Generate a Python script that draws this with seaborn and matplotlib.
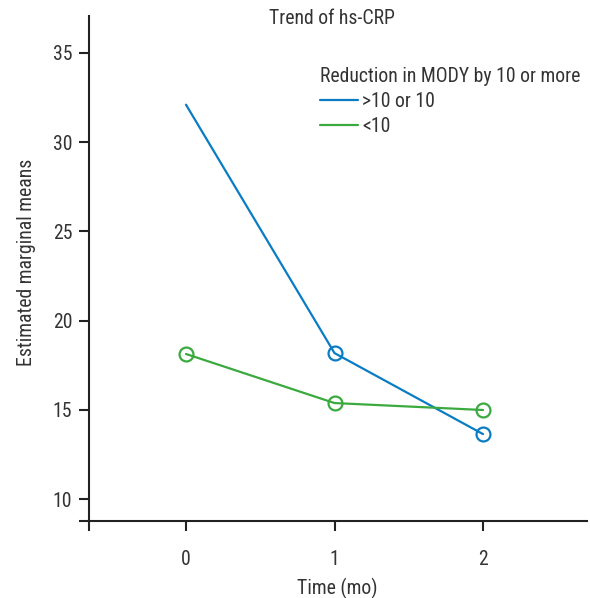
import matplotlib
matplotlib.use("Agg")
import matplotlib.pyplot as plt
import seaborn as sns
import pandas as pd
from matplotlib.lines import Line2D
from matplotlib import font_manager

time_points = [0, 1, 2]
group_labels = [">10 or 10", "<10"]
values_high = [32.1, 18.18, 13.64]
values_low = [18.13, 15.38, 14.99]
x_tick_labels = ["0", "1", "2"]
y_tick_values = [10, 15, 20, 25, 30, 35]

df = pd.DataFrame({
    "time": time_points * 2,
    "mean": values_high + values_low,
    "group": [group_labels[0]] * 3 + [group_labels[1]] * 3,
})

sns.set_theme(style="white")
names = {f.name for f in font_manager.fontManager.ttflist}
fam = [n for n in ["Roboto Condensed", "Liberation Sans Narrow", "Roboto", "DejaVu Sans"] if n in names]
plt.rcParams["font.family"] = fam + ["DejaVu Sans"]

colors = {group_labels[0]: "#0a7cc4", group_labels[1]: "#3aaa3e"}
text_c = "#333333"
fs = 14.2

W, H = 590, 598
fig = plt.figure(figsize=(5.9, 5.98), dpi=100)
ax = fig.add_axes([89 / W, 1 - 521 / H, (587 - 89) / W, (521 - 16) / H])

sns.lineplot(data=df, x="time", y="mean", hue="group", palette=colors,
             marker="o", markersize=10, markerfacecolor="none",
             markeredgewidth=1.6, linewidth=1.6, legend=False, ax=ax)
for ln in ax.get_lines():
    ln.set_markeredgecolor(ln.get_color())
    ln.set_markerfacecolor("none")
ax.get_lines()[0].set_markevery([1, 2])

xlo, xhi = -0.653, 2.70
ylo, yhi = 8.77, 37.07
ax.set_xlim(xlo, xhi)
ax.set_ylim(ylo, yhi)
ax.set_xticks([xlo] + time_points)
ax.set_xticklabels([""] + x_tick_labels)
ax.set_yticks([ylo] + y_tick_values)
ax.set_yticklabels([""] + [str(v) for v in y_tick_values])

for s in ["top", "right"]:
    ax.spines[s].set_visible(False)
for s in ["left", "bottom"]:
    ax.spines[s].set_color("#222222")
    ax.spines[s].set_linewidth(1.5)
ax.tick_params(axis="both", which="both", direction="out", length=7, width=1.5,
               color="#222222", labelcolor=text_c, labelsize=fs,
               left=True, bottom=True)
ax.tick_params(axis="y", pad=5)
ax.tick_params(axis="x", pad=14)

ax.set_xlabel("")
ax.set_ylabel("")
fig.text(337 / W, 1 - 588 / H, "Time (mo)", fontsize=fs, color=text_c,
         ha="center", va="center")
fig.text(27 / W, 1 - 262 / H, "Estimated marginal means", fontsize=fs,
         color=text_c, ha="center", va="center", rotation=90)
fig.text(332 / W, 1 - 18 / H, "Trend of hs-CRP", fontsize=fs, color=text_c,
         ha="center", va="center")

handles = [Line2D([0], [0], color=colors[g], lw=1.6) for g in group_labels]
leg = ax.legend(handles, group_labels, title="Reduction in MODY by 10 or more",
                loc="upper left", bbox_to_anchor=(0.464, 0.899), frameon=False,
                fontsize=fs, title_fontsize=fs, handlelength=1.93,
                handletextpad=0.2, labelspacing=0.3, borderpad=0, borderaxespad=0)
leg._legend_box.align = "left"
for t in leg.get_texts():
    t.set_color(text_c)
leg.get_title().set_color(text_c)

fig.savefig("out.png", dpi=100)
